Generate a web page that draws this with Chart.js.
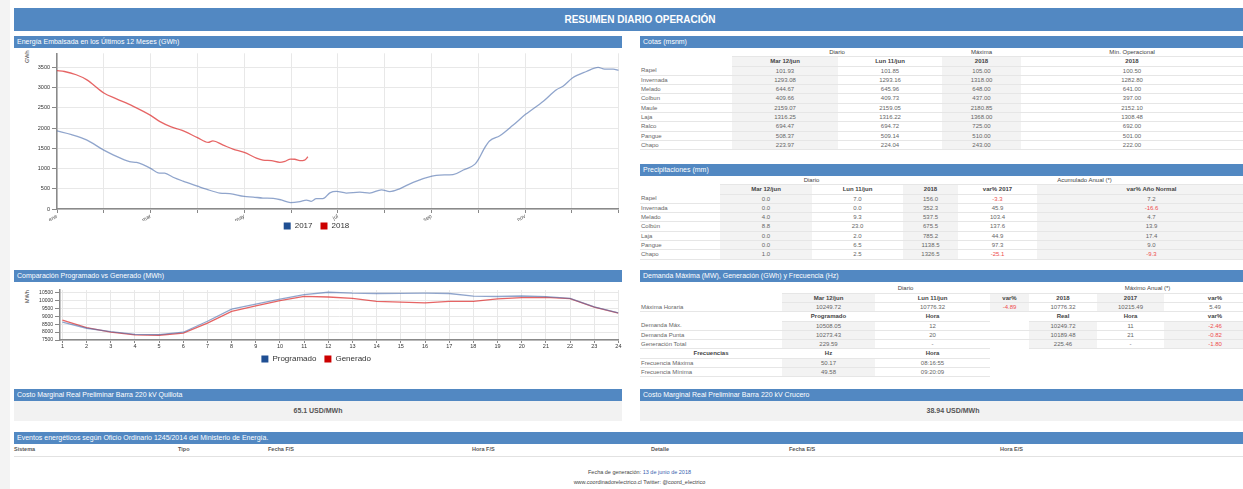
<!DOCTYPE html>
<html lang="es">
<head>
<meta charset="utf-8">
<title>Resumen Diario Operación</title>
<script src="https://cdn.jsdelivr.net/npm/chart.js@4.4.1/dist/chart.umd.min.js"></script>
<style>
body { margin:0; width:1243px; height:489px; overflow:hidden; position:relative; background:#fff;
       font-family:"Liberation Sans", Arial, Helvetica, sans-serif; color:#666; }
.franja { position:absolute; left:0; top:0; width:10px; height:489px; background:#f3f3f3; }
.barra { position:absolute; background:#5288c2; color:#fff; white-space:nowrap; overflow:hidden; box-sizing:border-box; }
.titulo { left:14px; top:8px; width:1252px; height:23px; line-height:23px; text-align:center; font-weight:bold; font-size:10px; }
.cab { height:12px; line-height:12px; font-size:7px; padding-left:3px; }
.izq { left:14px; width:608px; }
.der { left:640px; width:626px; }
.caja { position:absolute; }
.unidad { position:absolute; font-size:5.5px; color:#333; transform-origin:0 0; transform:rotate(-90deg); white-space:nowrap; }
table.t { position:absolute; left:640px; width:626px; border-collapse:collapse; table-layout:fixed; font-size:6px; color:#666; }
table.t td { padding:0; height:8.3px; line-height:8.3px; border-bottom:1px solid #e6e6e6; text-align:center; white-space:nowrap; overflow:hidden; }
table.t td.n { text-align:left; padding-left:1px; }
table.t td.g { background:#f3f3f3; }
table.t td.h { font-weight:bold; color:#444; }
table.t td.gr { color:#444; }
table.t td.v { border-bottom:none; }
table.t td.r { color:#ee4d4d; }
.valor { position:absolute; background:#f2f2f2; height:20px; line-height:20px; text-align:center; font-weight:bold; font-size:7px; color:#555; }
.col { position:absolute; top:446px; font-size:5.5px; font-weight:bold; color:#555; }
.linea { position:absolute; left:14px; top:456px; width:1252px; height:1px; background:#e2e2e2; }
.pie { position:absolute; left:0; width:1279px; text-align:center; font-size:5.5px; color:#444; }
.pie span { color:#3a5fb0; }
</style>
</head>
<body>
<div class="franja"></div>
<div class="barra titulo">RESUMEN DIARIO OPERACIÓN</div>

<div class="barra cab izq" style="top:36px">Energía Embalsada en los Últimos 12 Meses (GWh)</div>
<div class="unidad" style="left:24px; top:63px">GWh</div>
<div class="caja" style="left:14px; top:48px; width:608px; height:199px"><canvas id="graficoEmbalse"></canvas></div>

<div class="barra cab izq" style="top:270px">Comparación Programado vs Generado (MWh)</div>
<div class="unidad" style="left:24px; top:303px">MWh</div>
<div class="caja" style="left:14px; top:285px; width:608px; height:93px"><canvas id="graficoDemanda"></canvas></div>

<div class="barra cab der" style="top:36px">Cotas (msnm)</div>
<table class="t" style="top:48px; width:603px">
<colgroup><col style="width:92px"><col style="width:106px"><col style="width:104px"><col style="width:79px"><col style="width:222px"></colgroup>
<tr><td class="v"></td><td class="gr" colspan="2">Diario</td><td class="gr">Máxima</td><td class="gr">Mín. Operacional</td></tr>
<tr><td class="v"></td><td class="h g">Mar 12/jun</td><td class="h">Lun 11/jun</td><td class="h g">2018</td><td class="h">2018</td></tr>
<tr><td class="n">Rapel</td><td class="g">101.93</td><td>101.85</td><td class="g">105.00</td><td>100.50</td></tr>
<tr><td class="n">Invernada</td><td class="g">1293.08</td><td>1293.16</td><td class="g">1318.00</td><td>1282.80</td></tr>
<tr><td class="n">Melado</td><td class="g">644.67</td><td>645.96</td><td class="g">648.00</td><td>641.00</td></tr>
<tr><td class="n">Colbun</td><td class="g">409.66</td><td>409.73</td><td class="g">437.00</td><td>397.00</td></tr>
<tr><td class="n">Maule</td><td class="g">2159.07</td><td>2159.05</td><td class="g">2180.85</td><td>2152.10</td></tr>
<tr><td class="n">Laja</td><td class="g">1316.25</td><td>1316.22</td><td class="g">1368.00</td><td>1308.48</td></tr>
<tr><td class="n">Ralco</td><td class="g">694.47</td><td>694.72</td><td class="g">725.00</td><td>692.00</td></tr>
<tr><td class="n">Pangue</td><td class="g">508.37</td><td>509.14</td><td class="g">510.00</td><td>501.00</td></tr>
<tr><td class="n">Chapo</td><td class="g">223.97</td><td>224.04</td><td class="g">243.00</td><td>222.00</td></tr>
</table>

<div class="barra cab der" style="top:164px">Precipitaciones (mm)</div>
<table class="t" style="top:176px">
<colgroup><col style="width:80px"><col style="width:92px"><col style="width:91px"><col style="width:55px"><col style="width:79px"><col style="width:229px"></colgroup>
<tr><td class="v"></td><td class="gr" colspan="2">Diario</td><td class="gr" colspan="3">Acumulado Anual (*)</td></tr>
<tr><td class="v"></td><td class="h g">Mar 12/jun</td><td class="h">Lun 11/jun</td><td class="h g">2018</td><td class="h">var% 2017</td><td class="h g">var% Año Normal</td></tr>
<tr><td class="n">Rapel</td><td class="g">0.0</td><td>7.0</td><td class="g">156.0</td><td class="r">-3.3</td><td class="g">7.2</td></tr>
<tr><td class="n">Invernada</td><td class="g">0.0</td><td>0.0</td><td class="g">352.3</td><td>45.9</td><td class="g r">-16.6</td></tr>
<tr><td class="n">Melado</td><td class="g">4.0</td><td>9.3</td><td class="g">537.5</td><td>103.4</td><td class="g">4.7</td></tr>
<tr><td class="n">Colbún</td><td class="g">8.8</td><td>23.0</td><td class="g">675.5</td><td>137.6</td><td class="g">13.9</td></tr>
<tr><td class="n">Laja</td><td class="g">0.0</td><td>2.0</td><td class="g">785.2</td><td>44.9</td><td class="g">17.4</td></tr>
<tr><td class="n">Pangue</td><td class="g">0.0</td><td>6.5</td><td class="g">1138.5</td><td>97.3</td><td class="g">9.0</td></tr>
<tr><td class="n">Chapo</td><td class="g">1.0</td><td>2.5</td><td class="g">1326.5</td><td class="r">-25.1</td><td class="g r">-9.3</td></tr>
</table>

<div class="barra cab der" style="top:270px">Demanda Máxima (MW), Generación (GWh) y Frecuencia (Hz)</div>
<table class="t" style="top:284.4px">
<colgroup><col style="width:142px"><col style="width:93px"><col style="width:115px"><col style="width:39px"><col style="width:68px"><col style="width:67px"><col style="width:102px"></colgroup>
<tr><td class="v"></td><td class="gr" colspan="3">Diario</td><td class="gr" colspan="3">Máximo Anual (*)</td></tr>
<tr><td class="v"></td><td class="h g">Mar 12/jun</td><td class="h">Lun 11/jun</td><td class="h g">var%</td><td class="h">2018</td><td class="h g">2017</td><td class="h">var%</td></tr>
<tr><td class="n">Máxima Horaria</td><td class="g">10249.72</td><td>10776.32</td><td class="g r">-4.89</td><td>10776.32</td><td class="g">10215.49</td><td>5.49</td></tr>
<tr><td class="v"></td><td class="h">Programado</td><td class="h">Hora</td><td class="v"></td><td class="h">Real</td><td class="h">Hora</td><td class="h">var%</td></tr>
<tr><td class="n">Demanda Máx.</td><td class="g">10508.05</td><td>12</td><td></td><td class="g">10249.72</td><td>11</td><td class="g r">-2.46</td></tr>
<tr><td class="n">Demanda Punta</td><td class="g">10273.43</td><td>20</td><td></td><td class="g">10189.48</td><td>21</td><td class="g r">-0.82</td></tr>
<tr><td class="n">Generación Total</td><td class="g">229.59</td><td>-</td><td class="v"></td><td class="g">225.46</td><td>-</td><td class="g r">-1.80</td></tr>
<tr><td class="h">Frecuencias</td><td class="h">Hz</td><td class="h">Hora</td><td class="v"></td><td class="v"></td><td class="v"></td><td class="v"></td></tr>
<tr><td class="n">Frecuencia Máxima</td><td class="g">50.17</td><td>08:16:55</td><td class="v"></td><td class="v"></td><td class="v"></td><td class="v"></td></tr>
<tr><td class="n">Frecuencia Mínima</td><td class="g">49.58</td><td>09:20:09</td><td class="v"></td><td class="v"></td><td class="v"></td><td class="v"></td></tr>
</table>

<div class="barra cab izq" style="top:389px">Costo Marginal Real Preliminar Barra 220 kV Quillota</div>
<div class="valor" style="left:14px; top:401px; width:608px">65.1 USD/MWh</div>
<div class="barra cab der" style="top:389px">Costo Marginal Real Preliminar Barra 220 kV Crucero</div>
<div class="valor" style="left:640px; top:401px; width:626px">38.94 USD/MWh</div>

<div class="barra cab" style="left:14px; width:1252px; top:432px">Eventos energéticos según Oficio Ordinario 1245/2014 del Ministerio de Energía.</div>
<div class="col" style="left:14px">Sistema</div>
<div class="col" style="left:178px">Tipo</div>
<div class="col" style="left:268px">Fecha F/S</div>
<div class="col" style="left:472px">Hora F/S</div>
<div class="col" style="left:651px">Detalle</div>
<div class="col" style="left:789px">Fecha E/S</div>
<div class="col" style="left:1000px">Hora E/S</div>
<div class="linea"></div>

<div class="pie" style="top:469px">Fecha de generación: <span>13 de junio de 2018</span></div>
<div class="pie" style="top:479px">www.coordinadorelectrico.cl Twitter: @coord_electrico</div>

<script>
// etiquetas del eje de meses (una por mes, se rotulan los impares)
var meses = ['ene', '', 'mar', '', 'may', '', 'jul', '', 'sep', '', 'nov', '', ''];
var ticksEmbalse = [0, 500, 1000, 1500, 2000, 2500, 3000, 3500];
var ticksDemanda = [7500, 8000, 8500, 9000, 9500, 10000, 10500];

// energía embalsada, posición en meses desde el 1 de enero
var pos2017 = [0, 0.31, 0.63, 1.0, 1.2, 1.55, 1.7, 2.0, 2.16, 2.3, 2.48, 2.69, 3.0, 3.19, 3.48, 3.69,
    4.0, 4.19, 4.4, 4.62, 4.79, 4.99, 5.19, 5.33, 5.43, 5.54, 5.68, 5.83, 5.97, 6.18, 6.47, 6.68,
    6.93, 7.11, 7.32, 7.61, 8.01, 8.18, 8.46, 8.68, 8.93, 9.01, 9.12, 9.24, 9.46, 9.74, 10.01,
    10.39, 10.67, 10.81, 11.01, 11.31, 11.56, 11.7, 11.88, 12.0];
var val2017 = [1930, 1840, 1710, 1455, 1340, 1170, 1150, 1005, 895, 885, 785, 690, 565, 490, 395, 380,
    310, 295, 270, 262, 225, 160, 185, 220, 190, 255, 255, 400, 435, 395, 415, 395,
    475, 430, 500, 660, 810, 840, 850, 965, 1110, 1240, 1480, 1680, 1810, 2070, 2340,
    2665, 2950, 3035, 3240, 3400, 3500, 3460, 3460, 3425];

var pos2018 = [0, 0.16, 0.41, 0.63, 1.0, 1.27, 1.62, 2.0, 2.2, 2.44, 2.66, 3.0, 3.23, 3.33, 3.55, 3.76,
    4.0, 4.26, 4.4, 4.58, 4.76, 4.87, 4.99, 5.08, 5.19, 5.29, 5.36];
var val2018 = [3420, 3400, 3320, 3200, 2870, 2725, 2545, 2315, 2160, 2030, 1950, 1765, 1645, 1685, 1580, 1480,
    1400, 1260, 1210, 1195, 1155, 1180, 1235, 1230, 1195, 1210, 1290];

// programado vs generado por hora (MWh)
var horas = [1, 2, 3, 4, 5, 6, 7, 8, 9, 10, 11, 12, 13, 14, 15, 16, 17, 18, 19, 20, 21, 22, 23, 24];
var programado = [8620, 8240, 8030, 7860, 7840, 7990, 8680, 9440, 9760, 10080, 10360, 10508,
    10450, 10430, 10440, 10450, 10430, 10265, 10240, 10273, 10230, 10120, 9580, 9210];
var generado = [8750, 8280, 7990, 7820, 7800, 7930, 8560, 9300, 9650, 9980, 10250, 10210,
    10120, 9930, 9890, 9840, 9930, 9930, 10090, 10170, 10189, 10110, 9570, 9200];

Chart.defaults.font.family = '"Liberation Sans", Arial, sans-serif';
Chart.defaults.color = '#444';

// acerca la leyenda al eje x
Chart.register({
    id: 'subirLeyenda',
    afterLayout: function(chart, args, opts) {
        if (chart.legend && opts.px) {
            chart.legend.top -= opts.px;
            chart.legend.bottom -= opts.px;
        }
    }
});

function puntos(xs, ys) {
    return xs.map(function(x, i) { return { x: x, y: ys[i] }; });
}

function fijarTicks(valores) {
    return function(s) {
        s.ticks = valores.map(function(v) { return { value: v }; });
    };
}

// cuadros de la leyenda en color sólido
function leyendaSolida(chart) {
    var items = Chart.defaults.plugins.legend.labels.generateLabels(chart);
    items.forEach(function(it) {
        var ds = chart.data.datasets[it.datasetIndex];
        it.fillStyle = ds.colorLeyenda;
        it.strokeStyle = ds.colorLeyenda;
        it.lineWidth = 0;
    });
    return items;
}

var leyenda = {
    position: 'bottom',
    labels: { boxWidth: 7, boxHeight: 7, padding: 8, font: { size: 8 }, color: '#333', generateLabels: leyendaSolida }
};

var rejilla = { color: '#e8e8e8', tickColor: '#888' };
var borde = { color: '#8a8a8a', width: 1.5 };

new Chart(document.getElementById('graficoEmbalse'), {
    type: 'line',
    data: {
        datasets: [{
            label: '2017',
            data: puntos(pos2017, val2017),
            borderColor: 'rgba(70, 105, 170, 0.6)',
            colorLeyenda: '#1f4f93',
            borderWidth: 1.3,
            pointRadius: 0,
            cubicInterpolationMode: 'monotone'
        }, {
            label: '2018',
            data: puntos(pos2018, val2018),
            borderColor: 'rgba(222, 50, 50, 0.75)',
            colorLeyenda: '#cc0000',
            borderWidth: 1.3,
            pointRadius: 0,
            cubicInterpolationMode: 'monotone'
        }]
    },
    options: {
        responsive: true,
        maintainAspectRatio: false,
        animation: false,
        layout: { padding: { right: 3 } },
        plugins: { legend: leyenda, subirLeyenda: { px: 7 }, tooltip: { enabled: false } },
        scales: {
            x: {
                type: 'linear', min: 0, max: 12,
                afterBuildTicks: fijarTicks(meses.map(function(m, i) { return i; })),
                afterFit: function(s) { s.height = 12; },
                ticks: {
                    autoSkip: false, minRotation: 30, maxRotation: 30, padding: 0,
                    font: { size: 5.5 }, color: '#555',
                    callback: function(v) { return meses[v]; }
                },
                grid: Object.assign({ tickLength: 4 }, rejilla),
                border: borde
            },
            y: {
                min: 0, max: 3850,
                afterBuildTicks: fijarTicks(ticksEmbalse),
                afterFit: function(s) { s.width = 43; },
                ticks: { autoSkip: false, padding: 2, font: { size: 5.5 }, color: '#333',
                    callback: function(v) { return String(v); } },
                grid: Object.assign({ tickLength: 5 }, rejilla),
                border: borde
            }
        }
    }
});

new Chart(document.getElementById('graficoDemanda'), {
    type: 'line',
    data: {
        datasets: [{
            label: 'Programado',
            data: puntos(horas, programado),
            borderColor: 'rgba(70, 105, 170, 0.6)',
            colorLeyenda: '#1f4f93',
            borderWidth: 1.3,
            pointRadius: 0
        }, {
            label: 'Generado',
            data: puntos(horas, generado),
            borderColor: 'rgba(222, 50, 50, 0.75)',
            colorLeyenda: '#cc0000',
            borderWidth: 1.3,
            pointRadius: 0
        }]
    },
    options: {
        responsive: true,
        maintainAspectRatio: false,
        animation: false,
        layout: { padding: { right: 3.6 } },
        plugins: { legend: leyenda, subirLeyenda: { px: 5 }, tooltip: { enabled: false } },
        scales: {
            x: {
                type: 'linear', min: 0.9, max: 24,
                afterBuildTicks: fijarTicks(horas),
                afterFit: function(s) { s.height = 12; },
                ticks: { autoSkip: false, maxRotation: 0, padding: 0, font: { size: 5.5 }, color: '#333' },
                grid: Object.assign({ tickLength: 3 }, rejilla),
                border: borde
            },
            y: {
                min: 7500, max: 10650,
                afterBuildTicks: fijarTicks(ticksDemanda),
                afterFit: function(s) { s.width = 46; },
                ticks: { autoSkip: false, padding: 2, font: { size: 5 }, color: '#333',
                    callback: function(v) { return String(v); } },
                grid: Object.assign({ tickLength: 5 }, rejilla),
                border: borde
            }
        }
    }
});
</script>
</body>
</html>
